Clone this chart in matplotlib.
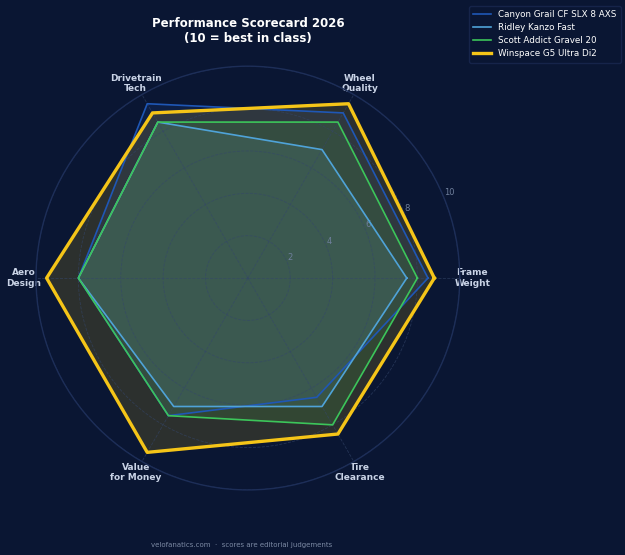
import numpy as np
import matplotlib
matplotlib.use('Agg')
import matplotlib.pyplot as plt

categories = ['Frame\nWeight', 'Wheel\nQuality', 'Drivetrain\nTech', 'Aero\nDesign',
              'Value\nfor Money', 'Tire\nClearance']
canyon = [8.5, 9.0, 9.5, 8.0, 7.5, 6.5]
ridley = [7.5, 7.0, 8.5, 8.0, 7.0, 7.0]
scott = [8.0, 8.5, 8.5, 8.0, 7.5, 8.0]
winspace = [8.8, 9.5, 9.0, 9.5, 9.5, 8.5]
bike_names = ['Canyon Grail CF SLX 8 AXS', 'Ridley Kanzo Fast',
              'Scott Addict Gravel 20', 'Winspace G5 Ultra Di2']
ring_ticks = [2, 4, 6, 8, 10]

bg = '#0a1633'
colors = ['#1f57b5', '#4fa3d8', '#3cc55a', '#f5c518']
widths = [1.2, 1.2, 1.2, 2.4]

fig = plt.figure(figsize=(6.25, 5.55), dpi=100, facecolor=bg)
ax = fig.add_axes([0.0576, 0.117, 0.678, 0.764], polar=True, facecolor=bg)

angles = np.linspace(0, 2 * np.pi, len(categories), endpoint=False)
closed = np.append(angles, angles[0])

for name, vals, c, lw in zip(bike_names, [canyon, ridley, scott, winspace], colors, widths):
    v = np.append(vals, vals[0])
    ax.fill(closed, v, color=c, alpha=0.15, linewidth=0)
    ax.plot(closed, v, color=c, linewidth=lw, label=name)

ax.set_ylim(0, 10)
ax.set_yticks(ring_ticks)
ax.set_yticklabels([str(t) for t in ring_ticks], color='#6f7f9c', fontsize=6)
ax.set_rlabel_position(22.5)
ax.set_xticks(angles)
ax.set_xticklabels(categories, color='#c9d3e6', fontsize=6.5, fontweight='bold')
ax.tick_params(axis='x', pad=-1.5)
ax.grid(color='#34466a', linestyle='--', linewidth=0.6, alpha=0.6)
ax.spines['polar'].set_color('#1d2e58')
ax.spines['polar'].set_linewidth(1.0)

fig.text(0.397, 0.945, 'Performance Scorecard 2026\n(10 = best in class)', ha='center',
         va='center', color='white', fontsize=8.5, fontweight='bold')
fig.text(0.386, 0.018, 'velofanatics.com  ·  scores are editorial judgements', ha='center',
         va='center', color='#7b89a3', fontsize=5)

leg = fig.legend(loc='upper right', bbox_to_anchor=(1.0, 0.997), fontsize=6.3,
                 facecolor=bg, edgecolor='#16244a', labelcolor='white', framealpha=1.0,
                 handlelength=2.0, borderpad=0.5, labelspacing=0.45)

fig.savefig('out.png', dpi=100, facecolor=bg)
